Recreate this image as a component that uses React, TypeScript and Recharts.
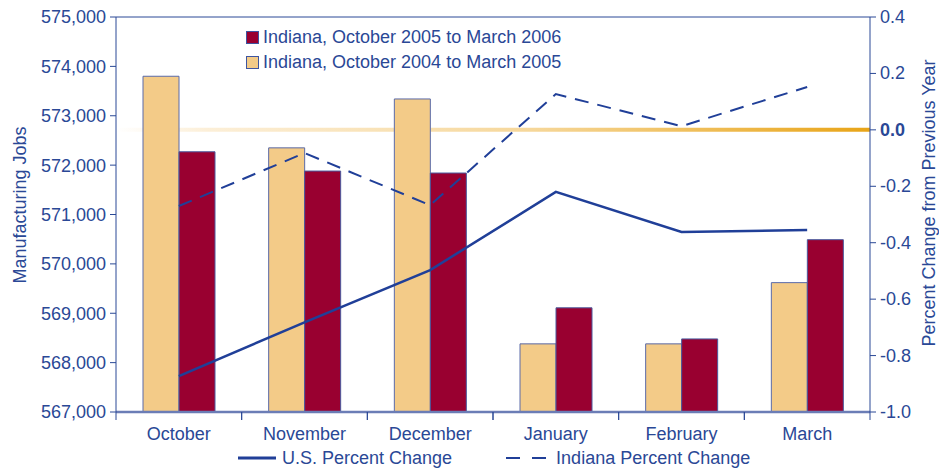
import { Bar, ComposedChart, Line, ReferenceLine, XAxis, YAxis } from 'recharts'

const MONTHS = ['October', 'November', 'December', 'January', 'February', 'March']
const JOBS_2004_05 = [573800, 572350, 573340, 568380, 568380, 569620]
const JOBS_2005_06 = [572270, 571880, 571840, 569110, 568480, 570490]
const US_CHANGE = [-0.873, -0.682, -0.497, -0.22, -0.362, -0.355]
const INDIANA_CHANGE = [-0.27, -0.082, -0.267, 0.127, 0.013, 0.152]
const JOB_TICKS = [567000, 568000, 569000, 570000, 571000, 572000, 573000, 574000, 575000]
const PCT_TICKS = [-1.0, -0.8, -0.6, -0.4, -0.2, 0.0, 0.2, 0.4]

const BAR_NAMES = ['Indiana, October 2005 to March 2006', 'Indiana, October 2004 to March 2005']
const LINE_NAMES = ['U.S. Percent Change', 'Indiana Percent Change']

const data = MONTHS.map((month, i) => ({
  month,
  prev: JOBS_2004_05[i],
  curr: JOBS_2005_06[i],
  us: US_CHANGE[i],
  indiana: INDIANA_CHANGE[i],
}))

const BLUE = '#2a4896'
const LINE_BLUE = '#203f98'
const RED = '#990030'
const TAN = '#f3cb88'
const FONT = '"Liberation Sans", Arial, sans-serif'
const BAND = 754 / 6

function MonthTick(props: any) {
  const { x, y, payload } = props
  return (
    <g>
      <line x1={x - BAND / 2} y1={412} x2={x - BAND / 2} y2={420} stroke={BLUE} strokeWidth={1} />
      <line x1={x + BAND / 2} y1={412} x2={x + BAND / 2} y2={420} stroke={BLUE} strokeWidth={1} />
      <text x={x} y={y + 20} textAnchor="middle" fill={BLUE} fontSize={18} fontFamily={FONT}>
        {payload.value}
      </text>
    </g>
  )
}

function PctTick(props: any) {
  const { x, y, payload } = props
  const v = Number(payload.value)
  return (
    <text
      x={x + 2}
      y={y + 6}
      textAnchor="start"
      fill={BLUE}
      fontSize={18}
      fontFamily={FONT}
      fontWeight={v === 0 ? 'bold' : 'normal'}
    >
      {v.toFixed(1)}
    </text>
  )
}

export default function App() {
  return (
    <div style={{ position: 'absolute', left: 0, top: 0, width: 939, height: 469, background: '#fff', fontFamily: FONT }}>
      <ComposedChart
        width={939}
        height={469}
        data={data}
        margin={{ top: 17, right: 9, bottom: 27, left: 16 }}
        barGap={0}
      >
        <defs>
          <linearGradient id="zeroGrad" gradientUnits="userSpaceOnUse" x1={116} y1={0} x2={870} y2={0}>
            <stop offset="0" stopColor="#ffffff" />
            <stop offset="0.12" stopColor="#fcefd8" />
            <stop offset="0.55" stopColor="#f6d79a" />
            <stop offset="1" stopColor="#e8a417" />
          </linearGradient>
        </defs>
        <XAxis
          dataKey="month"
          height={30}
          tick={<MonthTick />}
          tickLine={false}
          axisLine={{ stroke: '#6b7db6', strokeWidth: 2.5 }}
          interval={0}
        />
        <YAxis
          yAxisId="jobs"
          width={100}
          domain={[567000, 575000]}
          ticks={JOB_TICKS}
          tickFormatter={(v) => Number(v).toLocaleString('en-US')}
          tick={{ fill: BLUE, fontSize: 18, fontFamily: FONT }}
          tickLine={{ stroke: BLUE }}
          axisLine={{ stroke: BLUE }}
          tickSize={6}
          tickMargin={4}
          allowDataOverflow
          label={{
            content: () => (
              <text
                x={20}
                y={205}
                transform="rotate(-90 20 205)"
                textAnchor="middle"
                dominantBaseline="central"
                fill={BLUE}
                fontSize={18}
                fontFamily={FONT}
              >
                Manufacturing Jobs
              </text>
            ),
          }}
        />
        <YAxis
          yAxisId="pct"
          orientation="right"
          width={60}
          domain={[-1.0, 0.4]}
          ticks={PCT_TICKS}
          tick={<PctTick />}
          tickLine={{ stroke: BLUE }}
          axisLine={{ stroke: BLUE }}
          tickSize={6}
          allowDataOverflow
          label={{
            content: () => (
              <text
                x={929}
                y={203}
                transform="rotate(-90 929 203)"
                textAnchor="middle"
                dominantBaseline="central"
                fill={BLUE}
                fontSize={18}
                fontFamily={FONT}
              >
                Percent Change from Previous Year
              </text>
            ),
          }}
        />
        <ReferenceLine yAxisId="pct" y={0} stroke="url(#zeroGrad)" strokeWidth={4} zIndex={0} />
        <ReferenceLine yAxisId="jobs" y={575000} stroke={BLUE} strokeWidth={1} />
        <Bar
          yAxisId="jobs"
          dataKey="prev"
          name={BAR_NAMES[1]}
          fill={TAN}
          stroke="#5a6aa8"
          strokeWidth={1}
          barSize={36}
          isAnimationActive={false}
        />
        <Bar
          yAxisId="jobs"
          dataKey="curr"
          name={BAR_NAMES[0]}
          fill={RED}
          stroke="#4a5a9e"
          strokeWidth={1}
          barSize={36}
          isAnimationActive={false}
        />
        <Line
          yAxisId="pct"
          dataKey="us"
          name={LINE_NAMES[0]}
          stroke={LINE_BLUE}
          strokeWidth={2.5}
          dot={false}
          isAnimationActive={false}
        />
        <Line
          yAxisId="pct"
          dataKey="indiana"
          name={LINE_NAMES[1]}
          stroke={LINE_BLUE}
          strokeWidth={2}
          strokeDasharray="14 9"
          dot={false}
          isAnimationActive={false}
        />
      </ComposedChart>

      {/* bar legend, inside the plot */}
      <div style={{ position: 'absolute', left: 246, top: 25, color: BLUE, fontSize: 18, lineHeight: '25px' }}>
        {[RED, TAN].map((c, i) => (
          <div key={i} style={{ display: 'flex', alignItems: 'center', whiteSpace: 'nowrap' }}>
            <span
              style={{
                display: 'inline-block',
                width: 11,
                height: 11,
                background: c,
                border: '1px solid #3e55a0',
                marginRight: 4,
              }}
            />
            {BAR_NAMES[i]}
          </div>
        ))}
      </div>

      {/* line legend, below the axis */}
      <div style={{ position: 'absolute', left: 238, top: 447, color: BLUE, fontSize: 18, lineHeight: '22px', display: 'flex', alignItems: 'center', whiteSpace: 'nowrap' }}>
        <svg width={38} height={6} style={{ marginRight: 6 }}>
          <line x1={0} y1={3} x2={38} y2={3} stroke={LINE_BLUE} strokeWidth={3} />
        </svg>
        <span>{LINE_NAMES[0]}</span>
        <svg width={42} height={6} style={{ marginLeft: 54, marginRight: 8 }}>
          <line x1={0} y1={3} x2={42} y2={3} stroke={LINE_BLUE} strokeWidth={2} strokeDasharray="14 12" />
        </svg>
        <span>{LINE_NAMES[1]}</span>
      </div>
    </div>
  )
}
